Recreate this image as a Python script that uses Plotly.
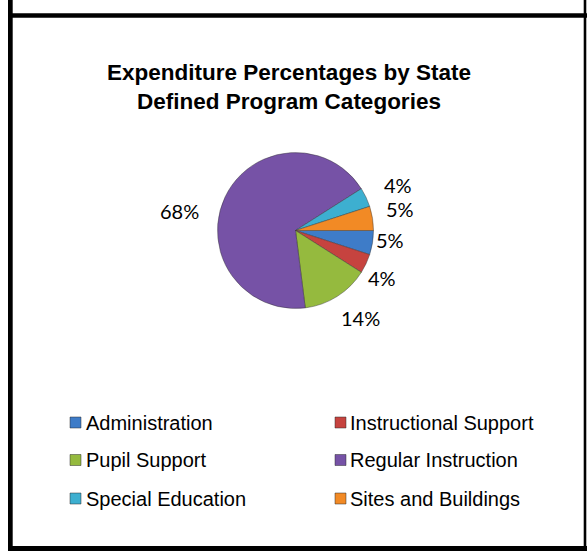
import math
import plotly.graph_objects as go

# Expenditure shares by state-defined program category (percent of total)
categories = [
    "Administration",
    "Instructional Support",
    "Pupil Support",
    "Regular Instruction",
    "Special Education",
    "Sites and Buildings",
]
percentages = [5, 4, 14, 68, 4, 5]
colors = ["#3E7CC8", "#C6433F", "#95BA3E", "#7652A6", "#3DAFD0", "#F28A25"]

title_lines = ["Expenditure Percentages by State", "Defined Program Categories"]

W, H = 587, 551


def px_x(x):
    return x / W


def px_y(y):
    return (H - y) / H


fig = go.Figure()

# pie centred near (295.5, 230.5) px with ~78 px radius, first slice starting at 3 o'clock
cx, cy, r = 295.5, 230.5, 78
start_deg = 0.0  # screen angle (clockwise from east) where the first slice begins
fig.add_trace(go.Pie(
    labels=categories,
    values=percentages,
    sort=False,
    direction="clockwise",
    rotation=90 - start_deg,
    marker=dict(colors=colors, line=dict(color="rgba(50,50,50,0.55)", width=0.8)),
    textinfo="none",
    domain=dict(x=[px_x(cx - r), px_x(cx + r)], y=[px_y(cy + r), px_y(cy - r)]),
    showlegend=False,
    hoverinfo="label+percent",
))

# percentage labels sit outside each slice: (distance from centre in px,
# angular shift in degrees from the slice's mid-angle)
label_offsets = [(95, -3.3), (98.7, 3.6), (108.7, -4.0), (118, -15.7), (112, 1.3), (106.7, -2.6)]

annotations = []
total = sum(percentages)
acc = 0.0
for val, (dist, shift) in zip(percentages, label_offsets):
    mid = start_deg + 360.0 * (acc + val / 2) / total
    acc += val
    a = math.radians(mid + shift)
    lx = cx + dist * math.cos(a)
    ly = cy + dist * math.sin(a)
    annotations.append(dict(text=f"{val}%", xref="paper", yref="paper",
                            x=px_x(lx), y=px_y(ly), xanchor="center", yanchor="middle",
                            showarrow=False,
                            font=dict(family="Lato", size=20, color="#000000")))

shapes = []
# black frame around the chart
frame = [
    (8, 0, 12.7, H),         # left bar
    (583.7, 0, 586.3, H),    # right bar
    (8, 13.3, W, 17.7),      # top bar
    (8, 546, W, H),          # bottom bar
]
for x0, y0, x1, y1 in frame:
    shapes.append(dict(type="rect", xref="paper", yref="paper",
                       x0=px_x(x0), x1=px_x(x1), y0=px_y(y1), y1=px_y(y0),
                       fillcolor="#000000", line=dict(width=0), layer="above"))

# two-column legend drawn as swatches plus text
col_swatch_x = [70, 335]
col_text_x = [84, 348]
row_y = [422.5, 460, 498.5]
sw = 11
for i, (name, col) in enumerate(zip(categories, colors)):
    c, rrow = i % 2, i // 2
    sx, yy = col_swatch_x[c], row_y[rrow]
    shapes.append(dict(type="rect", xref="paper", yref="paper",
                       x0=px_x(sx), x1=px_x(sx + sw),
                       y0=px_y(yy + sw / 2), y1=px_y(yy - sw / 2),
                       fillcolor=col, line=dict(color="rgba(40,40,40,0.6)", width=0.8)))
    annotations.append(dict(text=name, xref="paper", yref="paper",
                            x=px_x(col_text_x[c]), y=px_y(yy),
                            xanchor="left", yanchor="middle", showarrow=False,
                            font=dict(family="Liberation Sans", size=20, color="#000000")))

fig.update_layout(
    width=W, height=H,
    margin=dict(l=0, r=0, t=0, b=0),
    paper_bgcolor="#FFFFFF",
    plot_bgcolor="#FFFFFF",
    title=dict(
        text="<b>" + "<br>".join(title_lines) + "</b>",
        x=px_x(289), xanchor="center",
        y=px_y(80), yanchor="middle",
        font=dict(family="Liberation Sans", size=22.5, color="#000000"),
    ),
    shapes=shapes,
    annotations=annotations,
)

fig.write_html("out.html")
